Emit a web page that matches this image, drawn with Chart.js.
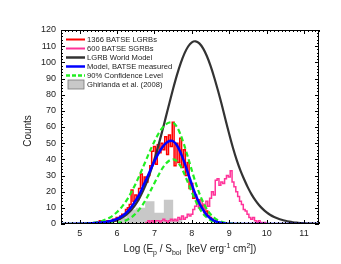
<!DOCTYPE html>
<html>
<head>
<meta charset="utf-8">
<script src="https://cdn.jsdelivr.net/npm/chart.js@4"></script>
<style>
  html, body { margin: 0; padding: 0; background: #fff; }
  #c { display: block; }
</style>
</head>
<body>
<canvas id="c" width="341" height="264"></canvas>
<script>
// 1366 BATSE LGRBs, bin centres and counts
const lgrbBins = [5.45, 5.50, 5.55, 5.60, 5.65, 5.70, 5.75, 5.80, 5.85, 5.90, 5.95,
  6.00, 6.05, 6.10, 6.15, 6.20, 6.25, 6.30, 6.35, 6.40, 6.45,
  6.50, 6.55, 6.60, 6.65, 6.70, 6.75, 6.80, 6.85, 6.90, 6.95,
  7.00, 7.05, 7.10, 7.15, 7.20, 7.25, 7.30, 7.35, 7.40, 7.45,
  7.50, 7.55, 7.60, 7.65, 7.70, 7.75, 7.80, 7.85, 7.90, 7.95,
  8.00, 8.05, 8.10, 8.15, 8.20, 8.25, 8.30, 8.35, 8.40, 8.45,
  8.50, 8.55, 8.60, 8.65, 8.70, 8.75, 8.80];
const lgrbCounts = [0, 1, 2, 1, 0, 1, 2, 1, 2, 3, 2,
  4, 3, 5, 6, 6, 9, 10, 12, 21, 14,
  18, 15, 22, 31, 24, 29, 26, 30, 36, 45,
  48, 37, 49, 44, 50, 46, 54, 43, 55, 48,
  63, 36, 50, 38, 53, 35, 46, 30, 38, 22,
  25, 16, 18, 13, 15, 10, 12, 7, 8, 5,
  4, 3, 2, 2, 1, 1, 0];

// 600 BATSE SGRBs
const sgrbBins = [6.75, 6.80, 6.85, 6.90, 6.95, 7.00, 7.05, 7.10, 7.15, 7.20, 7.25,
  7.30, 7.35, 7.40, 7.45, 7.50, 7.55, 7.60, 7.65, 7.70, 7.75,
  7.80, 7.85, 7.90, 7.95, 8.00, 8.05, 8.10, 8.15, 8.20, 8.25,
  8.30, 8.35, 8.40, 8.45, 8.50, 8.55, 8.60, 8.65, 8.70, 8.75,
  8.80, 8.85, 8.90, 8.95, 9.00, 9.05, 9.10, 9.15, 9.20, 9.25,
  9.30, 9.35, 9.40, 9.45, 9.50, 9.55, 9.60, 9.65, 9.70, 9.75,
  9.80, 9.85, 9.90, 9.95, 10.00];
const sgrbCounts = [0, 1, 2, 1, 2, 1, 2, 2, 1, 2, 3,
  2, 1, 2, 3, 2, 3, 2, 4, 3, 5,
  3, 4, 6, 5, 6, 9, 11, 13, 10, 15,
  12, 9, 14, 11, 16, 20, 18, 27, 28, 24,
  26, 25, 28, 30, 29, 33, 26, 23, 20, 17,
  14, 12, 9, 8, 6, 4, 3, 4, 2, 1,
  2, 1, 0, 1, 0];

// Ghirlanda et al. (2008), bin edges and counts
const ghirEdges = [6.0, 6.25, 6.5, 6.75, 7.0, 7.25, 7.5, 7.75];
const ghirCounts = [4, 9, 10, 14, 7, 15, 3];

// LGRB World Model
const worldX = [4.5, 5.0, 5.5, 5.6, 5.7, 5.8, 5.9, 6.0, 6.1, 6.2, 6.3, 6.4, 6.5, 6.6, 6.7, 6.8, 6.9,
  7.0, 7.1, 7.2, 7.3, 7.4, 7.5, 7.6, 7.7, 7.8, 7.9, 8.0, 8.1, 8.2, 8.3, 8.4, 8.5, 8.6, 8.7, 8.8, 8.9,
  9.0, 9.1, 9.2, 9.3, 9.4, 9.5, 9.6, 9.7, 9.8, 9.9, 10.0, 10.1, 10.2, 10.3, 10.4, 10.5, 10.6, 10.7,
  10.8, 10.9, 11.0, 11.1, 11.2, 11.3, 11.4];
const worldY = [0, 0.02, 0.3, 0.5, 0.74, 1.1, 1.7, 2.4, 3.5, 4.9, 6.8, 9.2, 12.3, 16.1, 20.8, 26.3, 32.8,
  40.1, 48.1, 56.8, 65.8, 74.9, 83.8, 92.1, 99.4, 105.4, 109.8, 112.4, 113.0, 111.7, 108.6, 103.9, 97.8, 90.5, 82.4, 73.8, 64.5,
  55.5, 47, 39.5, 33, 27.5, 22.5, 18.2, 14.6, 11.6, 9.2, 7.2, 5.6, 4.4, 3.4, 2.6, 2.0, 1.5, 1.1,
  0.8, 0.6, 0.45, 0.3, 0.2, 0.15, 0.1];

// Model, BATSE measured
const modelX = [4.5, 5.0, 5.4, 5.5, 5.6, 5.7, 5.8, 5.9, 6.0, 6.1, 6.2, 6.3, 6.4, 6.5, 6.6, 6.7, 6.8, 6.9,
  7.0, 7.1, 7.2, 7.3, 7.4, 7.5, 7.6, 7.7, 7.8, 7.9, 8.0, 8.1, 8.2, 8.3, 8.4, 8.5, 8.6, 8.7, 8.8, 8.9, 9.0, 9.5, 11.4];
const modelY = [0, 0.1, 0.6, 0.8, 1.0, 1.3, 1.7, 2.3, 3.2, 4.4, 6.0, 8.3, 11.1, 14.7, 18.5, 23.6, 28.6, 33.8,
  38.9, 43.4, 47.2, 49.9, 51.3, 51.2, 48.7, 44.1, 38.1, 31.2, 24.4, 18.1, 12.8, 8.7, 5.5, 3.4, 2.0, 1.1, 0.6, 0.3, 0.15, 0, 0];

// 90% Confidence Level, upper and lower
const confHiX = [4.5, 5.0, 5.2, 5.4, 5.5, 5.6, 5.7, 5.8, 5.9, 6.0, 6.1, 6.2, 6.3, 6.4, 6.5, 6.6, 6.7, 6.8, 6.9,
  7.0, 7.1, 7.2, 7.3, 7.4, 7.5, 7.6, 7.7, 7.8, 7.9, 8.0, 8.1, 8.2, 8.3, 8.4, 8.5, 8.6, 8.7, 8.8, 8.9, 9.0, 9.2, 9.5, 11.4];
const confHiY = [0, 0.14, 0.36, 0.86, 1.3, 1.9, 2.8, 3.9, 5.4, 7.4, 9.8, 12.8, 16.3, 20.5, 25.1, 30.1, 35.5, 40.9, 46.3,
  51.2, 55.6, 59.1, 61.6, 62.8, 62.7, 60.1, 55.1, 48.5, 40.9, 33.1, 25.6, 19.0, 13.5, 9.2, 6.0, 3.8, 2.3, 1.3, 0.7, 0.4, 0.1, 0, 0];
const confLoX = [4.5, 5.5, 5.8, 6.0, 6.1, 6.2, 6.3, 6.4, 6.5, 6.6, 6.7, 6.8, 6.9,
  7.0, 7.1, 7.2, 7.3, 7.4, 7.5, 7.6, 7.7, 7.8, 7.9, 8.0, 8.1, 8.2, 8.3, 8.4, 8.5, 8.6, 8.7, 8.8, 9.0, 11.4];
const confLoY = [0, 0, 0.2, 0.7, 1.1, 1.9, 2.9, 4.4, 6.5, 9.2, 12.5, 16.4, 20.8,
  25.4, 29.9, 34.0, 37.2, 39.3, 40, 38.9, 35.7, 30.9, 25.3, 19.6, 14.3, 9.9, 6.4, 4.0, 2.3, 1.3, 0.7, 0.3, 0, 0];

const xTicks = [5, 6, 7, 8, 9, 10, 11];

const pts = (xs, ys) => xs.map((x, i) => ({x: x, y: ys[i]}));

// gray histogram as a filled step line: value of point i holds until the next edge
const ghirPts = [{x: ghirEdges[0], y: 0}];
ghirCounts.forEach((c, i) => ghirPts.push({x: ghirEdges[i], y: c}));
ghirPts.push({x: ghirEdges[ghirEdges.length - 1], y: 0});

const legendItems = [
  {text: '1366 BATSE LGRBs', color: '#ff0000', width: 2},
  {text: '600 BATSE SGRBs', color: '#ff3399', width: 2},
  {text: 'LGRB World Model', color: '#333333', width: 2.5},
  {text: 'Model, BATSE measured', color: '#0000ff', width: 2.5},
  {text: '90% Confidence Level', color: '#22ee22', width: 2.5, dash: [4, 2]},
  {text: 'Ghirlanda et al. (2008)', box: true}
];

const decor = {
  id: 'decor',
  afterDraw(chart) {
    const ctx = chart.ctx;
    const a = chart.chartArea;
    const xs = chart.scales.x, ys = chart.scales.y;
    ctx.save();
    // frame
    ctx.strokeStyle = '#000';
    ctx.lineWidth = 1;
    ctx.strokeRect(a.left + 0.5, a.top + 0.5, a.right - a.left - 1, a.bottom - a.top - 1);
    // inward ticks
    ctx.beginPath();
    for (let v = 0; v <= 120; v += 2) {
      const y = Math.round(ys.getPixelForValue(v)) + 0.5;
      const len = v % 10 === 0 ? 4 : 2;
      ctx.moveTo(a.left, y); ctx.lineTo(a.left + len, y);
      ctx.moveTo(a.right, y); ctx.lineTo(a.right - len, y);
    }
    for (let k = 45; k <= 114; k++) {
      const v = k / 10;
      const x = Math.round(xs.getPixelForValue(v)) + 0.5;
      const len = k % 10 === 0 ? 4 : 2;
      ctx.moveTo(x, a.bottom); ctx.lineTo(x, a.bottom - len);
      ctx.moveTo(x, a.top); ctx.lineTo(x, a.top + len);
    }
    ctx.stroke();

    // legend
    ctx.font = '7.6px "Liberation Sans", Arial, sans-serif';
    ctx.textBaseline = 'middle';
    legendItems.forEach((it, i) => {
      const y = 39.5 + i * 9;
      if (it.box) {
        ctx.fillStyle = '#c8c8c8';
        ctx.fillRect(68, y - 4.5, 16, 9);
        ctx.strokeStyle = '#777';
        ctx.lineWidth = 0.8;
        ctx.strokeRect(68, y - 4.5, 16, 9);
      } else {
        ctx.strokeStyle = it.color;
        ctx.lineWidth = it.width;
        ctx.setLineDash(it.dash || []);
        ctx.beginPath();
        ctx.moveTo(66, y); ctx.lineTo(85, y);
        ctx.stroke();
        ctx.setLineDash([]);
      }
      ctx.fillStyle = '#222';
      ctx.fillText(it.text, 87, y);
    });

    // y title
    ctx.font = '10px "Liberation Sans", Arial, sans-serif';
    ctx.fillStyle = '#222';
    ctx.save();
    ctx.translate(28, 131);
    ctx.rotate(-Math.PI / 2);
    ctx.textAlign = 'center';
    ctx.fillText('Counts', 0, 0);
    ctx.restore();

    // x title with sub/superscripts
    const parts = [
      ['Log (E', 0], ['p', 1], [' / S', 0], ['bol', 1], ['  [keV erg', 0], ['-1', -1], [' cm', 0], ['2', -1], ['])', 0]
    ];
    const big = '10px "Liberation Sans", Arial, sans-serif';
    const small = '7px "Liberation Sans", Arial, sans-serif';
    let total = 0;
    parts.forEach(p => { ctx.font = p[1] ? small : big; total += ctx.measureText(p[0]).width; });
    let x = (a.left + a.right) / 2 - total / 2;
    const base = 252;
    ctx.textBaseline = 'alphabetic';
    ctx.textAlign = 'left';
    parts.forEach(p => {
      ctx.font = p[1] ? small : big;
      const dy = p[1] === 1 ? 3 : (p[1] === -1 ? -4 : 0);
      ctx.fillText(p[0], x, base + dy);
      x += ctx.measureText(p[0]).width;
    });
    ctx.restore();
  }
};

const chart = new Chart(document.getElementById('c'), {
  type: 'line',
  data: {
    datasets: [
      {
        label: 'Model, BATSE measured',
        data: pts(modelX, modelY),
        borderColor: '#0000ff',
        borderWidth: 2.5,
        pointRadius: 0,
        tension: 0.3
      },
      {
        label: '90% Confidence Level',
        data: pts(confHiX, confHiY),
        borderColor: '#22ee22',
        borderWidth: 2.2,
        borderDash: [5, 3],
        pointRadius: 0,
        tension: 0.3
      },
      {
        label: '90% Confidence Level (lower)',
        data: pts(confLoX, confLoY),
        borderColor: '#22ee22',
        borderWidth: 2.2,
        borderDash: [5, 3],
        pointRadius: 0,
        tension: 0.3
      },
      {
        label: 'LGRB World Model',
        data: pts(worldX, worldY),
        borderColor: '#333333',
        borderWidth: 2.2,
        pointRadius: 0,
        tension: 0.3
      },
      {
        label: '600 BATSE SGRBs',
        data: pts(sgrbBins, sgrbCounts),
        borderColor: '#ff3399',
        borderWidth: 1.5,
        pointRadius: 0,
        stepped: 'middle'
      },
      {
        label: '1366 BATSE LGRBs',
        data: pts(lgrbBins, lgrbCounts),
        borderColor: '#ff0000',
        borderWidth: 1.5,
        pointRadius: 0,
        stepped: 'middle'
      },
      {
        label: 'Ghirlanda et al. (2008)',
        data: ghirPts,
        borderColor: '#c8c8c8',
        backgroundColor: '#c8c8c8',
        borderWidth: 0,
        pointRadius: 0,
        stepped: 'before',
        fill: 'origin'
      }
    ]
  },
  options: {
    responsive: false,
    animation: false,
    layout: { padding: { left: 0, right: 22, top: 30, bottom: 0 } },
    plugins: { legend: { display: false }, tooltip: { enabled: false } },
    scales: {
      x: {
        type: 'linear',
        min: 4.5,
        max: 11.4,
        offset: false,
        grid: { display: false, drawTicks: false, offset: false },
        border: { display: false },
        ticks: { stepSize: 1, color: '#222', padding: 4, maxRotation: 0,
          font: { size: 9, family: '"Liberation Sans", Arial, sans-serif' } },
        afterBuildTicks: s => { s.ticks = xTicks.map(v => ({value: v})); },
        afterFit: s => { s.height = 40; }
      },
      y: {
        min: 0,
        max: 120,
        grid: { display: false, drawTicks: false },
        border: { display: false },
        ticks: { stepSize: 10, color: '#222', padding: 5,
          font: { size: 9, family: '"Liberation Sans", Arial, sans-serif' } },
        afterFit: s => { s.width = 61; }
      }
    }
  },
  plugins: [decor]
});
</script>
</body>
</html>
